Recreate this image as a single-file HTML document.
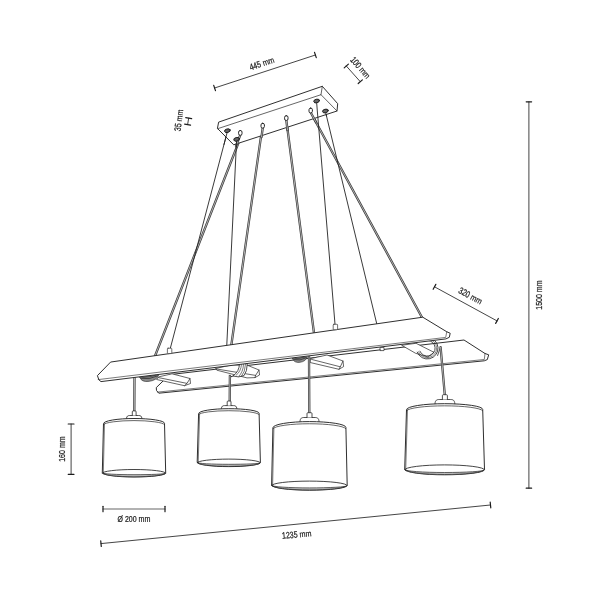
<!DOCTYPE html>
<html lang="en"><head><meta charset="utf-8"><title>Pendant lamp dimensions</title>
<style>
html,body{margin:0;padding:0;background:#fff;}
body{width:600px;height:600px;overflow:hidden;}
svg{display:block;filter:grayscale(1);font-family:"Liberation Sans",sans-serif;}
</style></head><body>
<svg width="600" height="600" viewBox="0 0 600 600" stroke-linecap="round">
<rect width="600" height="600" fill="#fff"/>
<g id="cables">
<line x1="241.5" y1="135" x2="155" y2="356" stroke="#3a3a3a" stroke-width="2.3"/><line x1="241.5" y1="135" x2="155" y2="356" stroke="#bdbdbd" stroke-width="0.90"/>
<line x1="262.2" y1="128" x2="231.2" y2="346" stroke="#3a3a3a" stroke-width="2.3"/><line x1="262.2" y1="128" x2="231.2" y2="346" stroke="#bdbdbd" stroke-width="0.90"/>
<line x1="286.3" y1="120" x2="314" y2="333" stroke="#3a3a3a" stroke-width="2.3"/><line x1="286.3" y1="120" x2="314" y2="333" stroke="#bdbdbd" stroke-width="0.90"/>
<line x1="310.7" y1="112.5" x2="422.3" y2="318" stroke="#3a3a3a" stroke-width="2.3"/><line x1="310.7" y1="112.5" x2="422.3" y2="318" stroke="#bdbdbd" stroke-width="0.90"/>
<line x1="227.4" y1="131.5" x2="170" y2="349.5" stroke="#242424" stroke-width="0.9"/>
<line x1="236.6" y1="140" x2="226.7" y2="347" stroke="#242424" stroke-width="0.9"/>
<line x1="316.6" y1="102" x2="335.2" y2="326.5" stroke="#242424" stroke-width="0.9"/>
<line x1="325.4" y1="111.5" x2="376.8" y2="324" stroke="#242424" stroke-width="0.9"/>
</g>
<g id="canopy" fill="#fff" stroke="#242424" stroke-width="0.95" stroke-linejoin="round">
<path d="M219,122 L322.3,86.3 L337.7,103.7 L337,111 L233.7,144.8 L217.7,128.7 Z"/>
<path d="M217.7,128.7 L321,94.7 L337,111 M322.3,86.3 L321,94.7" fill="none" stroke-width="0.7"/>
</g>
<g id="cabletops">
<line x1="240.3" y1="135" x2="236" y2="146" stroke="#3a3a3a" stroke-width="2.3"/><line x1="240.3" y1="135" x2="236" y2="146" stroke="#bdbdbd" stroke-width="0.90"/>
<line x1="262.7" y1="128" x2="261.5" y2="137" stroke="#3a3a3a" stroke-width="2.3"/><line x1="262.7" y1="128" x2="261.5" y2="137" stroke="#bdbdbd" stroke-width="0.90"/>
<line x1="286.3" y1="120" x2="287.5" y2="130" stroke="#3a3a3a" stroke-width="2.3"/><line x1="286.3" y1="120" x2="287.5" y2="130" stroke="#bdbdbd" stroke-width="0.90"/>
<line x1="310.7" y1="112.5" x2="316" y2="122.3" stroke="#3a3a3a" stroke-width="2.3"/><line x1="310.7" y1="112.5" x2="316" y2="122.3" stroke="#bdbdbd" stroke-width="0.90"/>
<line x1="227.4" y1="131.5" x2="224" y2="144.5" stroke="#242424" stroke-width="0.9"/>
<line x1="236.6" y1="140" x2="236.4" y2="147" stroke="#242424" stroke-width="0.9"/>
<line x1="316.6" y1="102" x2="317.8" y2="117" stroke="#242424" stroke-width="0.9"/>
<line x1="325.4" y1="111.5" x2="326.5" y2="116" stroke="#242424" stroke-width="0.9"/>
<ellipse cx="227.4" cy="130.7" rx="2.9" ry="1.8" fill="#666" stroke="#1c1c1c" stroke-width="0.9" transform="rotate(-15 227.4 130.7)"/>
<ellipse cx="236.6" cy="139.3" rx="2.9" ry="1.8" fill="#666" stroke="#1c1c1c" stroke-width="0.9" transform="rotate(-15 236.6 139.3)"/>
<ellipse cx="316.6" cy="101" rx="2.9" ry="1.8" fill="#666" stroke="#1c1c1c" stroke-width="0.9" transform="rotate(-15 316.6 101)"/>
<ellipse cx="325.4" cy="111" rx="2.9" ry="1.8" fill="#666" stroke="#1c1c1c" stroke-width="0.9" transform="rotate(-15 325.4 111)"/>
<rect x="238.60000000000002" y="130.5" width="3.4" height="4.8" rx="1.6" fill="#fff" stroke="#262626" stroke-width="1"/>
<rect x="261.0" y="123.3" width="3.4" height="4.8" rx="1.6" fill="#fff" stroke="#262626" stroke-width="1"/>
<rect x="284.6" y="115.7" width="3.4" height="4.8" rx="1.6" fill="#fff" stroke="#262626" stroke-width="1"/>
<rect x="309.0" y="108.10000000000001" width="3.4" height="4.8" rx="1.6" fill="#fff" stroke="#262626" stroke-width="1"/>
</g>
<g id="rear" stroke="#242424" stroke-width="0.95" stroke-linejoin="round" fill="#fff">
<path d="M170,374.6 L464,340 L485,353.5 L488.7,354.8 L487.3,359.6 L484.3,360.8 L158.8,393.2 L156.5,390.5 L156.3,388 Z"/>
<path d="M157.6,392.1 L484.3,359.5 L485,353.5" fill="none" stroke-width="0.6"/>
</g>
<g id="cross" stroke="#242424" stroke-width="0.7" stroke-linejoin="round" fill="#fff">
<path d="M159,376.8 L172,373.8 L190,378.5 L190.5,383.5 L184.5,385.7 L157,379.6 Z"/>
<path d="M158.5,377.6 L187,383.4 L190,378.5 M187,383.4 L184.5,385.7" fill="none"/>
<path d="M216,368.4 L232,364.8 L248,365.5 L259,370 L259.5,375 L255,377.6 L247,377.9 L217.2,370.3 Z"/>
<path d="M216.6,369 L255.6,375.4 L259,370 M255.6,375.4 L255,377.6" fill="none"/>
<path d="M311,358.5 L327,355 L343,361 L343.6,366.6 L339,369.3 L310.5,362.6 Z"/>
<path d="M311.5,359.4 L340.3,366.8 L343,361 M340.3,366.8 L339,369.3" fill="none"/>
<rect x="380.4" y="347.4" width="3.6" height="3.2" fill="#fff"/>
<path d="M402,345.2 L416,343.3 L434,352.3 L428,357 L416,353.4 Z"/>
</g>
<path d="M428.1,337.4 A10.8,10.8 0 1 1 417.2,352.2" fill="none" stroke="#242424" stroke-width="0.85"/><path d="M428.0,338.9 A9.4,9.4 0 1 1 418.5,351.7" fill="none" stroke="#242424" stroke-width="0.55"/><path d="M427.9,340.3 A7.9,7.9 0 1 1 419.9,351.2" fill="none" stroke="#242424" stroke-width="0.8"/>
<path d="M440.3,347.6 L437.6,355.5" stroke="#555" stroke-width="1" fill="none"/>
<path d="M239.5,364 Q239.3,371.5 233,376 Q238.5,378 244,375.6 Q247.2,371.5 247.3,364 Z" fill="#fff" stroke="#242424" stroke-width="0.8" stroke-linejoin="round"/>
<path d="M241.5,364.5 Q241,371.5 236.2,375.2 M243.5,364.5 Q243.2,372 238.8,376.3 M245.5,364.5 Q245.2,372 241.3,376.6" fill="none" stroke="#242424" stroke-width="0.6"/>
<path d="M233,376 L231,376.8 L229.2,375.6" fill="none" stroke="#222" stroke-width="1"/>
<line x1="134.5" y1="376" x2="134.3" y2="411" stroke="#3a3a3a" stroke-width="2.3"/><line x1="134.5" y1="376" x2="134.3" y2="411" stroke="#bdbdbd" stroke-width="0.90"/>
<line x1="309" y1="355" x2="309.3" y2="413" stroke="#3a3a3a" stroke-width="2.3"/><line x1="309" y1="355" x2="309.3" y2="413" stroke="#bdbdbd" stroke-width="0.90"/>
<g id="front" stroke="#242424" stroke-width="0.95" stroke-linejoin="round" fill="#fff">
<path d="M111,362 L422.75,317.2 L446.75,331.75 L450.2,333.25 L449.3,337.3 L445.9,338.9 L101,381.6 Q98.5,381 97.5,376 Z"/>
<path d="M98.2,379.6 L445.7,337.4 L446.75,331.75" fill="none" stroke-width="0.6"/>
</g>
<path d="M139.8,377.3 L158.6,375.0 Q157.1,380.2 149.2,381.34999999999997 Q141.3,382.5 139.8,377.3 Z" fill="#8a8a8a" stroke="#222" stroke-width="0.6"/><path d="M141.3,378.40000000000003 Q149.2,380.04999999999995 157.1,376.1" fill="none" stroke="#222" stroke-width="0.7"/><path d="M142.8,377.5 Q149.2,377.71 155.6,375.2" fill="none" stroke="#333" stroke-width="0.5"/>
<path d="M292.6,358.6 L307.4,356.8 Q305.9,361.40000000000003 300.0,362.30000000000007 Q294.1,363.20000000000005 292.6,358.6 Z" fill="#8a8a8a" stroke="#222" stroke-width="0.6"/><path d="M294.1,359.70000000000005 Q300.0,361.15000000000003 305.9,357.90000000000003" fill="none" stroke="#222" stroke-width="0.7"/><path d="M295.6,358.8 Q300.0,359.08000000000004 304.4,357.0" fill="none" stroke="#333" stroke-width="0.5"/>
<rect x="167.4" y="348.2" width="4.4" height="5.4" rx="0.7" fill="#fff" stroke="#333" stroke-width="0.7"/>
<rect x="333.2" y="324.3" width="4.4" height="5.4" rx="0.7" fill="#fff" stroke="#333" stroke-width="0.7"/>
<line x1="229.9" y1="376" x2="229.7" y2="404" stroke="#3a3a3a" stroke-width="2.3"/><line x1="229.9" y1="376" x2="229.7" y2="404" stroke="#bdbdbd" stroke-width="0.90"/>
<line x1="440.6" y1="347.2" x2="444.8" y2="395" stroke="#3a3a3a" stroke-width="2.3"/><line x1="440.6" y1="347.2" x2="444.8" y2="395" stroke="#bdbdbd" stroke-width="0.90"/>
<path d="M126.5,420.2 L126.5,418.4 C126.7,416.1 127.9,415.5 129.7,415.5 L138.7,415.5 C140.5,415.5 141.7,416.1 141.9,418.4 L141.9,420.2 Z" fill="#fff" stroke="#242424" stroke-width="0.8"/>
<path d="M132.3,415.5 L132.3,411.8 Q132.3,410.9 133.2,410.9 L135.2,410.9 Q136.1,410.9 136.1,411.8 L136.1,415.5" fill="#fff" stroke="#242424" stroke-width="0.8"/>
<path d="M103.5,423.3 A30.5,4.8 0 0 1 164.5,423.3 L165.7,473.0 A31.7,4.0 0 0 1 102.3,473.0 Z" fill="#fff" stroke="#242424" stroke-width="0.95" stroke-linejoin="round"/>
<path d="M103.7,424.4 A30.5,4.3 0 0 1 164.3,424.4" fill="none" stroke="#242424" stroke-width="0.7"/>
<path d="M104.5,423.9 L103.3,473.5" fill="none" stroke="#242424" stroke-width="0.6"/>
<path d="M102.3,473.0 A31.7,3.5 0 0 1 165.7,473.0" fill="none" stroke="#242424" stroke-width="0.85"/>
<path d="M102.6,473.3 A31.4,1.4 0 0 0 165.4,473.3 A31.7,4.0 0 0 1 102.6,473.3 Z" fill="#c4c4c4" stroke="#242424" stroke-width="0.7" stroke-linejoin="round"/>
<path d="M221.4,410.3 L221.4,408.5 C221.6,406.2 222.8,405.6 224.6,405.6 L233.6,405.6 C235.4,405.6 236.6,406.2 236.8,408.5 L236.8,410.3 Z" fill="#fff" stroke="#242424" stroke-width="0.8"/>
<path d="M227.2,405.6 L227.2,401.9 Q227.2,401.0 228.1,401.0 L230.1,401.0 Q231.0,401.0 231.0,401.9 L231.0,405.6" fill="#fff" stroke="#242424" stroke-width="0.8"/>
<path d="M198.6,413.3 A30.2,4.6 0 0 1 259.1,413.3 L260.4,462.6 A31.6,4.0 0 0 1 197.2,462.6 Z" fill="#fff" stroke="#242424" stroke-width="0.95" stroke-linejoin="round"/>
<path d="M198.8,414.4 A30.2,4.1 0 0 1 258.9,414.4" fill="none" stroke="#242424" stroke-width="0.7"/>
<path d="M199.6,413.9 L198.2,463.1" fill="none" stroke="#242424" stroke-width="0.6"/>
<path d="M197.2,462.6 A31.6,3.5 0 0 1 260.4,462.6" fill="none" stroke="#242424" stroke-width="0.85"/>
<path d="M197.5,462.9 A31.3,1.4 0 0 0 260.1,462.9 A31.6,4.0 0 0 1 197.5,462.9 Z" fill="#c4c4c4" stroke="#242424" stroke-width="0.7" stroke-linejoin="round"/>
<path d="M300.0,423.2 L300.0,421.4 C300.2,418.1 301.9,417.5 303.9,417.5 L315.1,417.5 C317.1,417.5 318.8,418.1 319.0,421.4 L319.0,423.2 Z" fill="#fff" stroke="#242424" stroke-width="0.8"/>
<path d="M307.0,417.5 L307.0,413.6 Q307.0,412.7 307.9,412.7 L311.1,412.7 Q312.0,412.7 312.0,413.6 L312.0,417.5" fill="#fff" stroke="#242424" stroke-width="0.8"/>
<path d="M272.9,427.4 A36.5,5.8 0 0 1 345.9,427.4 L347.2,485.4 A37.8,4.8 0 0 1 271.6,485.4 Z" fill="#fff" stroke="#242424" stroke-width="0.95" stroke-linejoin="round"/>
<path d="M273.1,428.5 A36.5,5.3 0 0 1 345.7,428.5" fill="none" stroke="#242424" stroke-width="0.7"/>
<path d="M273.9,428.0 L272.6,485.9" fill="none" stroke="#242424" stroke-width="0.6"/>
<path d="M271.6,485.4 A37.8,4.3 0 0 1 347.2,485.4" fill="none" stroke="#242424" stroke-width="0.85"/>
<path d="M271.9,485.7 A37.5,2.2 0 0 0 346.9,485.7 A37.8,4.8 0 0 1 271.9,485.7 Z" fill="#c4c4c4" stroke="#242424" stroke-width="0.7" stroke-linejoin="round"/>
<path d="M435.0,405.5 L435.0,403.7 C435.2,400.1 437.0,399.5 439.2,399.5 L450.6,399.5 C452.8,399.5 454.6,400.1 454.8,403.7 L454.8,405.5 Z" fill="#fff" stroke="#242424" stroke-width="0.8"/>
<path d="M442.4,399.5 L442.4,395.6 Q442.4,394.7 443.3,394.7 L446.5,394.7 Q447.4,394.7 447.4,395.6 L447.4,399.5" fill="#fff" stroke="#242424" stroke-width="0.8"/>
<path d="M406.5,409.4 A38.1,5.7 0 0 1 482.7,409.4 L484.5,469.6 A39.9,5.2 0 0 1 404.7,469.6 Z" fill="#fff" stroke="#242424" stroke-width="0.95" stroke-linejoin="round"/>
<path d="M406.7,410.5 A38.1,5.2 0 0 1 482.5,410.5" fill="none" stroke="#242424" stroke-width="0.7"/>
<path d="M407.5,410.0 L405.7,470.1" fill="none" stroke="#242424" stroke-width="0.6"/>
<path d="M404.7,469.6 A39.9,4.7 0 0 1 484.5,469.6" fill="none" stroke="#242424" stroke-width="0.85"/>
<path d="M405.0,469.9 A39.6,2.6 0 0 0 484.2,469.9 A39.9,5.2 0 0 1 405.0,469.9 Z" fill="#c4c4c4" stroke="#242424" stroke-width="0.7" stroke-linejoin="round"/>
<g id="dims" style="opacity:0.999">
<line x1="214.6" y1="88" x2="315.4" y2="55" stroke="#242424" stroke-width="0.85"/><line x1="213.73" y1="85.34" x2="215.47" y2="90.66" stroke="#1c1c1c" stroke-width="1.2"/><line x1="314.53" y1="52.34" x2="316.27" y2="57.66" stroke="#1c1c1c" stroke-width="1.2"/>
<line x1="346.3" y1="66" x2="360.3" y2="81.7" stroke="#242424" stroke-width="0.85"/><line x1="348.39" y1="64.14" x2="344.21" y2="67.86" stroke="#1c1c1c" stroke-width="1.2"/><line x1="362.39" y1="79.84" x2="358.21" y2="83.56" stroke="#1c1c1c" stroke-width="1.2"/>
<line x1="434.5" y1="286.8" x2="497" y2="320.9" stroke="#242424" stroke-width="0.85"/><line x1="435.84" y1="284.34" x2="433.16" y2="289.26" stroke="#1c1c1c" stroke-width="1.2"/><line x1="498.34" y1="318.44" x2="495.66" y2="323.36" stroke="#1c1c1c" stroke-width="1.2"/>
<line x1="528.9" y1="101.8" x2="528.9" y2="488.2" stroke="#444" stroke-width="1.0"/><line x1="531.60" y1="101.80" x2="526.20" y2="101.80" stroke="#1c1c1c" stroke-width="1.2"/><line x1="531.60" y1="488.20" x2="526.20" y2="488.20" stroke="#1c1c1c" stroke-width="1.2"/>
<line x1="71.1" y1="424" x2="71.1" y2="474.3" stroke="#444" stroke-width="1.0"/><line x1="74.00" y1="424.00" x2="68.20" y2="424.00" stroke="#1c1c1c" stroke-width="1.2"/><line x1="74.00" y1="474.30" x2="68.20" y2="474.30" stroke="#1c1c1c" stroke-width="1.2"/>
<line x1="103" y1="509" x2="165" y2="509" stroke="#666" stroke-width="1.2"/><line x1="103.00" y1="506.30" x2="103.00" y2="511.70" stroke="#1c1c1c" stroke-width="1.2"/><line x1="165.00" y1="506.30" x2="165.00" y2="511.70" stroke="#1c1c1c" stroke-width="1.2"/>
<line x1="101" y1="543.6" x2="490.5" y2="505" stroke="#242424" stroke-width="0.85"/><line x1="100.72" y1="540.81" x2="101.28" y2="546.39" stroke="#1c1c1c" stroke-width="1.2"/><line x1="490.22" y1="502.21" x2="490.78" y2="507.79" stroke="#1c1c1c" stroke-width="1.2"/>
<line x1="188.7" y1="118.1" x2="187.6" y2="124.6" stroke="#242424" stroke-width="0.85"/><line x1="191.66" y1="118.60" x2="185.74" y2="117.60" stroke="#1c1c1c" stroke-width="1.2"/><line x1="190.56" y1="125.10" x2="184.64" y2="124.10" stroke="#1c1c1c" stroke-width="1.2"/>
<g transform="translate(262.8,66.4) rotate(-18.3)"><text transform="translate(-12.78,0) scale(0.76,1)" font-size="9.2" fill="#1a1a1a" stroke="#1a1a1a" stroke-width="0.24">445</text><text transform="translate(0.88,0) scale(0.84,1)" font-size="8.5" fill="#1a1a1a" stroke="#1a1a1a" stroke-width="0.2">mm</text></g>
<g transform="translate(358.1,69.7) rotate(48.5)"><text transform="translate(-12.78,0) scale(0.76,1)" font-size="9.2" fill="#1a1a1a" stroke="#1a1a1a" stroke-width="0.24">100</text><text transform="translate(0.88,0) scale(0.84,1)" font-size="8.5" fill="#1a1a1a" stroke="#1a1a1a" stroke-width="0.2">mm</text></g>
<g transform="translate(181.8,120.7) rotate(-83)"><text transform="translate(-10.84,0) scale(0.76,1)" font-size="9.2" fill="#1a1a1a" stroke="#1a1a1a" stroke-width="0.24">35</text><text transform="translate(-1.06,0) scale(0.84,1)" font-size="8.5" fill="#1a1a1a" stroke="#1a1a1a" stroke-width="0.2">mm</text></g>
<g transform="translate(469,298.6) rotate(28.6)"><text transform="translate(-12.78,0) scale(0.76,1)" font-size="9.2" fill="#1a1a1a" stroke="#1a1a1a" stroke-width="0.24">320</text><text transform="translate(0.88,0) scale(0.84,1)" font-size="8.5" fill="#1a1a1a" stroke="#1a1a1a" stroke-width="0.2">mm</text></g>
<g transform="translate(542.4,295) rotate(-90)"><text transform="translate(-14.72,0) scale(0.76,1)" font-size="9.2" fill="#1a1a1a" stroke="#1a1a1a" stroke-width="0.24">1500</text><text transform="translate(2.83,0) scale(0.84,1)" font-size="8.5" fill="#1a1a1a" stroke="#1a1a1a" stroke-width="0.2">mm</text></g>
<g transform="translate(64.6,449) rotate(-90)"><text transform="translate(-12.78,0) scale(0.76,1)" font-size="9.2" fill="#1a1a1a" stroke="#1a1a1a" stroke-width="0.24">160</text><text transform="translate(0.88,0) scale(0.84,1)" font-size="8.5" fill="#1a1a1a" stroke="#1a1a1a" stroke-width="0.2">mm</text></g>
<g transform="translate(134,522) rotate(0)"><text transform="translate(-16.47,0) scale(0.76,1)" font-size="9.2" fill="#1a1a1a" stroke="#1a1a1a" stroke-width="0.24">Ø 200</text><text transform="translate(4.58,0) scale(0.84,1)" font-size="8.5" fill="#1a1a1a" stroke="#1a1a1a" stroke-width="0.2">mm</text></g>
<g transform="translate(297,537.5) rotate(-5.3)"><text transform="translate(-14.72,0) scale(0.76,1)" font-size="9.2" fill="#1a1a1a" stroke="#1a1a1a" stroke-width="0.24">1235</text><text transform="translate(2.83,0) scale(0.84,1)" font-size="8.5" fill="#1a1a1a" stroke="#1a1a1a" stroke-width="0.2">mm</text></g>
</g>
</svg>
</body></html>
